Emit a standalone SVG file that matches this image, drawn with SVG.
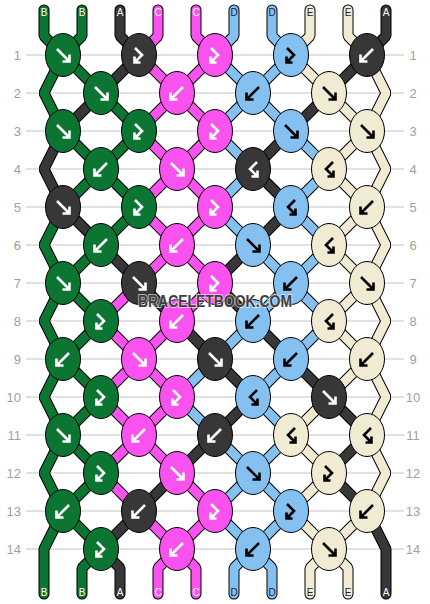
<svg xmlns="http://www.w3.org/2000/svg" xmlns:xlink="http://www.w3.org/1999/xlink" width="430" height="604" viewBox="0 0 430 604">
<style>
.grid line{stroke:#c4c4c4;stroke-width:1}
.num{font-family:"Liberation Sans",Arial,sans-serif;font-size:13px;fill:#a0a0a0}
.o{fill:none;stroke:#000;stroke-width:11;stroke-linejoin:bevel;stroke-linecap:round}
.s{fill:none;stroke-width:9;stroke-linejoin:bevel;stroke-linecap:round}
.sG{stroke:#0c7532}.sK{stroke:#373737}.sM{stroke:#f952ee}.sL{stroke:#85c1f0}.sE{stroke:#f1ebd3}
.G{fill:#0c7532}.K{fill:#373737}.M{fill:#f952ee}.L{fill:#85c1f0}.E{fill:#f1ebd3}
.w{stroke:#fff}.b{stroke:#000}
.lab{font-family:"Liberation Sans",Arial,sans-serif;font-size:10px;text-anchor:middle}
.lw{fill:#fff}.lb{fill:#222}
</style>
<defs>
<ellipse id="kn" rx="17.5" ry="21.5" stroke="#000" stroke-width="1"/>
<path id="F" d="M-6,-6 L6,6 M6.5,-0.5 V6.5 H-0.5" fill="none" stroke-width="2.6"/>
<path id="B" d="M6,-6 L-6,6 M-6.5,-0.5 V6.5 H0.5" fill="none" stroke-width="2.6"/>
<path id="FB" d="M-4,-7 L3,0 L-4,7 M-4.5,1.5 V7.5 H1.5" fill="none" stroke-width="2.6"/>
<path id="BF" d="M4,-7 L-3,0 L4,7 M4.5,1.5 V7.5 H-1.5" fill="none" stroke-width="2.6"/>
<path id="p0" d="M44,10 L44,36 L63,55 L101,93 L139,131 L101,169 L63,207 L44,245 L63,283 L101,321 L63,359 L44,397 L63,435 L101,473 L63,511 L44,549 L44,594"/>
<path id="p1" d="M82,10 L82,36 L63,55 L44,93 L63,131 L101,169 L139,207 L101,245 L63,283 L44,321 L63,359 L101,397 L63,435 L44,473 L63,511 L101,549 L82,568 L82,594"/>
<path id="p2" d="M120,10 L120,36 L139,55 L101,93 L63,131 L44,169 L63,207 L101,245 L139,283 L177,321 L215,359 L253,397 L215,435 L177,473 L139,511 L101,549 L120,568 L120,594"/>
<path id="p3" d="M158,10 L158,36 L139,55 L177,93 L215,131 L177,169 L139,207 L177,245 L215,283 L177,321 L139,359 L101,397 L139,435 L177,473 L215,511 L177,549 L158,568 L158,594"/>
<path id="p4" d="M196,10 L196,36 L215,55 L177,93 L139,131 L177,169 L215,207 L177,245 L139,283 L101,321 L139,359 L177,397 L139,435 L101,473 L139,511 L177,549 L196,568 L196,594"/>
<path id="p5" d="M234,10 L234,36 L215,55 L253,93 L291,131 L329,169 L291,207 L329,245 L291,283 L253,321 L215,359 L177,397 L215,435 L253,473 L291,511 L253,549 L234,568 L234,594"/>
<path id="p6" d="M272,10 L272,36 L291,55 L253,93 L215,131 L253,169 L215,207 L253,245 L291,283 L329,321 L291,359 L253,397 L291,435 L253,473 L215,511 L253,549 L272,568 L272,594"/>
<path id="p7" d="M310,10 L310,36 L291,55 L329,93 L367,131 L386,169 L367,207 L329,245 L367,283 L386,321 L367,359 L329,397 L291,435 L329,473 L291,511 L329,549 L310,568 L310,594"/>
<path id="p8" d="M348,10 L348,36 L367,55 L386,93 L367,131 L329,169 L367,207 L386,245 L367,283 L329,321 L367,359 L386,397 L367,435 L386,473 L367,511 L329,549 L348,568 L348,594"/>
<path id="p9" d="M386,10 L386,36 L367,55 L329,93 L291,131 L253,169 L291,207 L253,245 L215,283 L253,321 L291,359 L329,397 L367,435 L329,473 L367,511 L386,549 L386,594"/>
</defs>
<rect width="430" height="604" fill="#fff"/>
<g class="grid">
<line x1="26" y1="55" x2="404" y2="55"/><line x1="26" y1="93" x2="404" y2="93"/><line x1="26" y1="131" x2="404" y2="131"/><line x1="26" y1="169" x2="404" y2="169"/><line x1="26" y1="207" x2="404" y2="207"/><line x1="26" y1="245" x2="404" y2="245"/><line x1="26" y1="283" x2="404" y2="283"/><line x1="26" y1="321" x2="404" y2="321"/><line x1="26" y1="359" x2="404" y2="359"/><line x1="26" y1="397" x2="404" y2="397"/><line x1="26" y1="435" x2="404" y2="435"/><line x1="26" y1="473" x2="404" y2="473"/><line x1="26" y1="511" x2="404" y2="511"/><line x1="26" y1="549" x2="404" y2="549"/>
</g>
<g class="num" text-anchor="end">
<text x="21" y="60">1</text><text x="21" y="98">2</text><text x="21" y="136">3</text><text x="21" y="174">4</text><text x="21" y="212">5</text><text x="21" y="250">6</text><text x="21" y="288">7</text><text x="21" y="326">8</text><text x="21" y="364">9</text><text x="21" y="402">10</text><text x="21" y="440">11</text><text x="21" y="478">12</text><text x="21" y="516">13</text><text x="21" y="554">14</text>
</g>
<g class="num" text-anchor="middle">
<text x="413" y="60">1</text><text x="413" y="98">2</text><text x="413" y="136">3</text><text x="413" y="174">4</text><text x="413" y="212">5</text><text x="413" y="250">6</text><text x="413" y="288">7</text><text x="413" y="326">8</text><text x="413" y="364">9</text><text x="413" y="402">10</text><text x="413" y="440">11</text><text x="413" y="478">12</text><text x="413" y="516">13</text><text x="413" y="554">14</text>
</g>
<g id="strands">
<use href="#p0" class="o"/><use href="#p0" class="s sG"/>
<use href="#p1" class="o"/><use href="#p1" class="s sG"/>
<use href="#p2" class="o"/><use href="#p2" class="s sK"/>
<use href="#p3" class="o"/><use href="#p3" class="s sM"/>
<use href="#p4" class="o"/><use href="#p4" class="s sM"/>
<use href="#p5" class="o"/><use href="#p5" class="s sL"/>
<use href="#p6" class="o"/><use href="#p6" class="s sL"/>
<use href="#p7" class="o"/><use href="#p7" class="s sE"/>
<use href="#p8" class="o"/><use href="#p8" class="s sE"/>
<use href="#p9" class="o"/><use href="#p9" class="s sK"/>
</g>
<g id="knots">
<g id="k1-1"><use href="#kn" x="63" y="55" class="G"/><use href="#F" x="63" y="55" class="w"/></g>
<g id="k1-2"><use href="#kn" x="139" y="55" class="K"/><use href="#FB" x="139" y="55" class="w"/></g>
<g id="k1-3"><use href="#kn" x="215" y="55" class="M"/><use href="#FB" x="215" y="55" class="w"/></g>
<g id="k1-4"><use href="#kn" x="291" y="55" class="L"/><use href="#FB" x="291" y="55" class="b"/></g>
<g id="k1-5"><use href="#kn" x="367" y="55" class="K"/><use href="#B" x="367" y="55" class="w"/></g>
<g id="k2-1"><use href="#kn" x="101" y="93" class="G"/><use href="#F" x="101" y="93" class="w"/></g>
<g id="k2-2"><use href="#kn" x="177" y="93" class="M"/><use href="#B" x="177" y="93" class="w"/></g>
<g id="k2-3"><use href="#kn" x="253" y="93" class="L"/><use href="#B" x="253" y="93" class="b"/></g>
<g id="k2-4"><use href="#kn" x="329" y="93" class="E"/><use href="#F" x="329" y="93" class="b"/></g>
<g id="k3-1"><use href="#kn" x="63" y="131" class="G"/><use href="#F" x="63" y="131" class="w"/></g>
<g id="k3-2"><use href="#kn" x="139" y="131" class="G"/><use href="#FB" x="139" y="131" class="w"/></g>
<g id="k3-3"><use href="#kn" x="215" y="131" class="M"/><use href="#FB" x="215" y="131" class="w"/></g>
<g id="k3-4"><use href="#kn" x="291" y="131" class="L"/><use href="#F" x="291" y="131" class="b"/></g>
<g id="k3-5"><use href="#kn" x="367" y="131" class="E"/><use href="#F" x="367" y="131" class="b"/></g>
<g id="k4-1"><use href="#kn" x="101" y="169" class="G"/><use href="#B" x="101" y="169" class="w"/></g>
<g id="k4-2"><use href="#kn" x="177" y="169" class="M"/><use href="#F" x="177" y="169" class="w"/></g>
<g id="k4-3"><use href="#kn" x="253" y="169" class="K"/><use href="#BF" x="253" y="169" class="w"/></g>
<g id="k4-4"><use href="#kn" x="329" y="169" class="E"/><use href="#BF" x="329" y="169" class="b"/></g>
<g id="k5-1"><use href="#kn" x="63" y="207" class="K"/><use href="#F" x="63" y="207" class="w"/></g>
<g id="k5-2"><use href="#kn" x="139" y="207" class="G"/><use href="#FB" x="139" y="207" class="w"/></g>
<g id="k5-3"><use href="#kn" x="215" y="207" class="M"/><use href="#FB" x="215" y="207" class="w"/></g>
<g id="k5-4"><use href="#kn" x="291" y="207" class="L"/><use href="#BF" x="291" y="207" class="b"/></g>
<g id="k5-5"><use href="#kn" x="367" y="207" class="E"/><use href="#B" x="367" y="207" class="b"/></g>
<g id="k6-1"><use href="#kn" x="101" y="245" class="G"/><use href="#B" x="101" y="245" class="w"/></g>
<g id="k6-2"><use href="#kn" x="177" y="245" class="M"/><use href="#B" x="177" y="245" class="w"/></g>
<g id="k6-3"><use href="#kn" x="253" y="245" class="L"/><use href="#F" x="253" y="245" class="b"/></g>
<g id="k6-4"><use href="#kn" x="329" y="245" class="E"/><use href="#BF" x="329" y="245" class="b"/></g>
<g id="k7-1"><use href="#kn" x="63" y="283" class="G"/><use href="#F" x="63" y="283" class="w"/></g>
<g id="k7-2"><use href="#kn" x="139" y="283" class="K"/><use href="#F" x="139" y="283" class="w"/></g>
<g id="k7-3"><use href="#kn" x="215" y="283" class="M"/><use href="#FB" x="215" y="283" class="w"/></g>
<g id="k7-4"><use href="#kn" x="291" y="283" class="L"/><use href="#B" x="291" y="283" class="b"/></g>
<g id="k7-5"><use href="#kn" x="367" y="283" class="E"/><use href="#F" x="367" y="283" class="b"/></g>
<g id="k8-1"><use href="#kn" x="101" y="321" class="G"/><use href="#FB" x="101" y="321" class="w"/></g>
<g id="k8-2"><use href="#kn" x="177" y="321" class="M"/><use href="#B" x="177" y="321" class="w"/></g>
<g id="k8-3"><use href="#kn" x="253" y="321" class="L"/><use href="#B" x="253" y="321" class="b"/></g>
<g id="k8-4"><use href="#kn" x="329" y="321" class="E"/><use href="#BF" x="329" y="321" class="b"/></g>
<g id="k9-1"><use href="#kn" x="63" y="359" class="G"/><use href="#B" x="63" y="359" class="w"/></g>
<g id="k9-2"><use href="#kn" x="139" y="359" class="M"/><use href="#F" x="139" y="359" class="w"/></g>
<g id="k9-3"><use href="#kn" x="215" y="359" class="K"/><use href="#F" x="215" y="359" class="w"/></g>
<g id="k9-4"><use href="#kn" x="291" y="359" class="L"/><use href="#B" x="291" y="359" class="b"/></g>
<g id="k9-5"><use href="#kn" x="367" y="359" class="E"/><use href="#B" x="367" y="359" class="b"/></g>
<g id="k10-1"><use href="#kn" x="101" y="397" class="G"/><use href="#FB" x="101" y="397" class="w"/></g>
<g id="k10-2"><use href="#kn" x="177" y="397" class="M"/><use href="#FB" x="177" y="397" class="w"/></g>
<g id="k10-3"><use href="#kn" x="253" y="397" class="L"/><use href="#BF" x="253" y="397" class="b"/></g>
<g id="k10-4"><use href="#kn" x="329" y="397" class="K"/><use href="#F" x="329" y="397" class="w"/></g>
<g id="k11-1"><use href="#kn" x="63" y="435" class="G"/><use href="#F" x="63" y="435" class="w"/></g>
<g id="k11-2"><use href="#kn" x="139" y="435" class="M"/><use href="#B" x="139" y="435" class="w"/></g>
<g id="k11-3"><use href="#kn" x="215" y="435" class="K"/><use href="#B" x="215" y="435" class="w"/></g>
<g id="k11-4"><use href="#kn" x="291" y="435" class="E"/><use href="#BF" x="291" y="435" class="b"/></g>
<g id="k11-5"><use href="#kn" x="367" y="435" class="E"/><use href="#BF" x="367" y="435" class="b"/></g>
<g id="k12-1"><use href="#kn" x="101" y="473" class="G"/><use href="#FB" x="101" y="473" class="w"/></g>
<g id="k12-2"><use href="#kn" x="177" y="473" class="M"/><use href="#F" x="177" y="473" class="w"/></g>
<g id="k12-3"><use href="#kn" x="253" y="473" class="L"/><use href="#F" x="253" y="473" class="b"/></g>
<g id="k12-4"><use href="#kn" x="329" y="473" class="E"/><use href="#FB" x="329" y="473" class="b"/></g>
<g id="k13-1"><use href="#kn" x="63" y="511" class="G"/><use href="#B" x="63" y="511" class="w"/></g>
<g id="k13-2"><use href="#kn" x="139" y="511" class="K"/><use href="#B" x="139" y="511" class="w"/></g>
<g id="k13-3"><use href="#kn" x="215" y="511" class="M"/><use href="#FB" x="215" y="511" class="w"/></g>
<g id="k13-4"><use href="#kn" x="291" y="511" class="L"/><use href="#FB" x="291" y="511" class="b"/></g>
<g id="k13-5"><use href="#kn" x="367" y="511" class="E"/><use href="#B" x="367" y="511" class="b"/></g>
<g id="k14-1"><use href="#kn" x="101" y="549" class="G"/><use href="#FB" x="101" y="549" class="w"/></g>
<g id="k14-2"><use href="#kn" x="177" y="549" class="M"/><use href="#B" x="177" y="549" class="w"/></g>
<g id="k14-3"><use href="#kn" x="253" y="549" class="L"/><use href="#B" x="253" y="549" class="b"/></g>
<g id="k14-4"><use href="#kn" x="329" y="549" class="E"/><use href="#F" x="329" y="549" class="b"/></g>
</g>
<g id="labels" class="lab">
<text x="44" y="16" class="lw">B</text><text x="82" y="16" class="lw">B</text><text x="120" y="16" class="lw">A</text><text x="158" y="16" class="lw">C</text><text x="196" y="16" class="lw">C</text><text x="234" y="16" class="lb">D</text><text x="272" y="16" class="lb">D</text><text x="310" y="16" class="lb">E</text><text x="348" y="16" class="lb">E</text><text x="386" y="16" class="lw">A</text>
<text x="44" y="596" class="lw">B</text><text x="82" y="596" class="lw">B</text><text x="120" y="596" class="lw">A</text><text x="158" y="596" class="lw">C</text><text x="196" y="596" class="lw">C</text><text x="234" y="596" class="lb">D</text><text x="272" y="596" class="lb">D</text><text x="310" y="596" class="lb">E</text><text x="348" y="596" class="lb">E</text><text x="386" y="596" class="lw">A</text>
</g>
<text id="watermark" x="215" y="307" text-anchor="middle" font-family="'Liberation Sans',Arial,sans-serif" font-weight="bold" font-size="16" textLength="154" lengthAdjust="spacingAndGlyphs" fill="#404040" stroke="#fff" stroke-opacity="0.6" stroke-width="2" paint-order="stroke">BRACELETBOOK.COM</text>
</svg>
